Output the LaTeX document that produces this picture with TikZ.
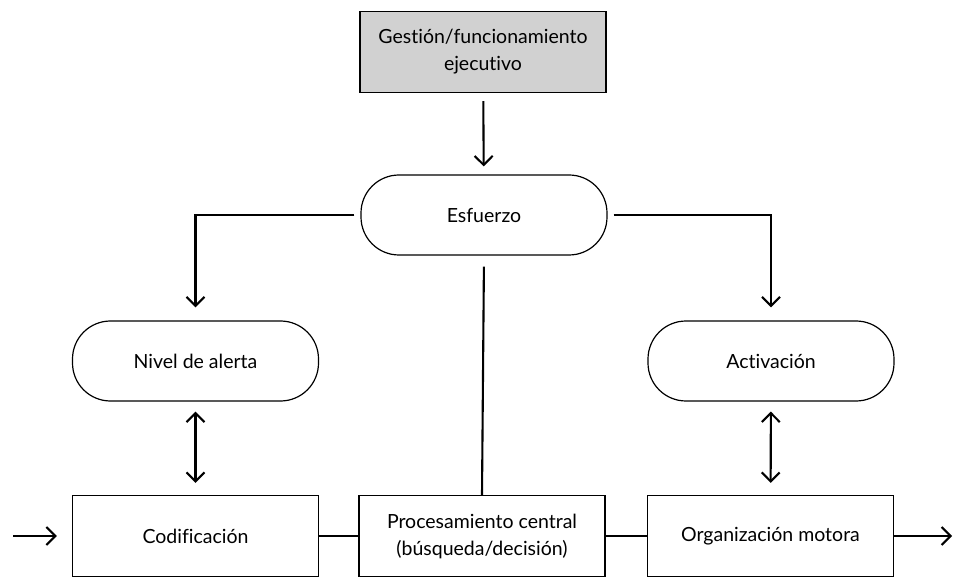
\documentclass[tikz,border=0pt]{standalone}
\usepackage{fontspec}
\setmainfont{Lato}[Ligatures=NoCommon]
\usetikzlibrary{arrows.meta,positioning}
\tikzset
{
    stepbox/.style  = {rectangle, draw=black, line width=1.2pt, align=center, minimum width=246pt, minimum height=81pt, font=\fontsize{19.5}{27}\selectfont},
    headbox/.style  = {stepbox, fill=black!18},
    roundbox/.style = {stepbox, rounded corners=38pt, minimum height=80pt},
    link/.style     = {line width=2.1pt},
    arrowlink/.style = {link, -{Straight Barb[length=9pt,width=18pt,line width=2.1pt]}},
    bothlink/.style = {link, {Straight Barb[length=9pt,width=18pt,line width=2.1pt]}-{Straight Barb[length=9pt,width=18pt,line width=2.1pt]}}
}
\begin{document}
\begin{tikzpicture}[x=1pt,y=-1pt]
	\useasboundingbox (0,0) rectangle (956,577);
	% top
	\node[headbox] (gestion) at (483,52) {Gestión/funcionamiento\\ejecutivo};
	\node[roundbox] (esfuerzo) at (484,215) {Esfuerzo};
	% middle
	\node[roundbox] (alerta) at (195.5,361) {Nivel de alerta};
	\node[roundbox] (activacion) at (771,361) {Activación};
	% bottom row
	\node[stepbox] (codif) at (195.5,536) {Codificación};
	\node[stepbox] (proc) at (482,536) {Procesamiento central\\(búsqueda/decisión)};
	\node[stepbox] (motora) at (770.5,536) {Organización motora};
	\coordinate (entrada) at (13,536);
	\coordinate (salida) at (952,536);
	% connectors
	\draw[arrowlink, shorten <=8pt, shorten >=8pt] (gestion) -- (esfuerzo);
	\draw[arrowlink, shorten >=13pt] ([xshift=-6pt]esfuerzo.west) -| (alerta.north);
	\draw[arrowlink, shorten >=13pt] ([xshift=6pt]esfuerzo.east) -| (activacion.north);
	\draw[bothlink, shorten <=10pt, shorten >=12pt] (alerta) -- (codif);
	\draw[bothlink, shorten <=10pt, shorten >=12pt] (activacion) -- (motora);
	\draw[link, shorten <=11pt] (esfuerzo.south) -- (proc.north);
	\draw[link] (codif) -- (proc);
	\draw[link] (proc) -- (motora);
	\draw[arrowlink, shorten >=15pt] (entrada) -- (codif.west);
	\draw[arrowlink] (motora) -- (salida);
\end{tikzpicture}
\end{document}
